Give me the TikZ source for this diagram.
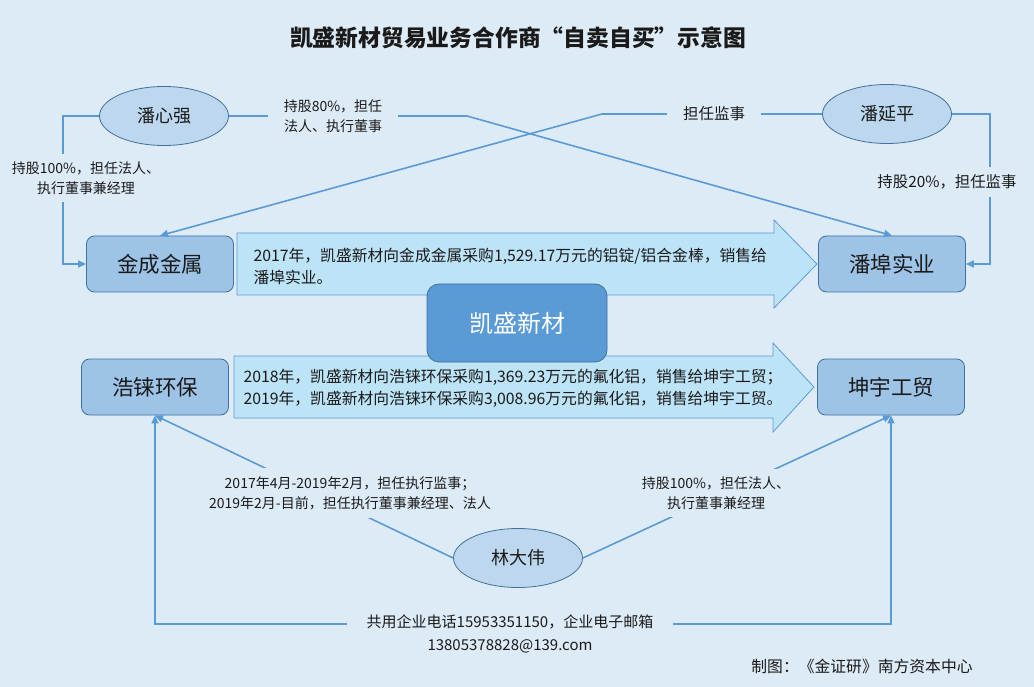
\documentclass[tikz,border=0pt]{standalone}
\usepackage{fontspec}
\setmainfont{Noto Sans CJK SC}
\usetikzlibrary{arrows.meta, positioning, shapes.geometric}

\definecolor{bgblue}{HTML}{DDEBF7}
\definecolor{boxblue}{HTML}{9DC3E6}
\definecolor{darkblue}{HTML}{41719C}
\definecolor{midblue}{HTML}{5B9BD5}
\definecolor{paleblue}{HTML}{BDD7EE}
\definecolor{arrowfill}{HTML}{BDE3F7}
\definecolor{inkgray}{HTML}{1A1A1A}

\tikzset{
  company/.style = {draw=darkblue, fill=boxblue, rounded corners=8pt, line width=0.8pt,
    minimum width=147pt, minimum height=56pt, text=inkgray, font=\fontsize{21.5}{25}\selectfont},
  person/.style = {ellipse, draw=darkblue, fill=paleblue, line width=0.8pt, inner sep=0pt,
    minimum width=129pt, minimum height=59pt, text=inkgray, font=\fontsize{18}{22}\selectfont},
  tag/.style = {fill=bgblue, align=center, text=inkgray, inner xsep=16pt, inner ysep=8pt,
    font=\fontsize{14}{20}\selectfont},
  link/.style = {draw=midblue, line width=1.6pt},
  bigarrow/.style = {fill=arrowfill, draw=midblue, line width=0.8pt},
  flowtext/.style = {anchor=west, align=left, text=inkgray, font=\fontsize{15.8}{22}\selectfont}
}

\begin{document}
\begin{tikzpicture}[x=1pt, y=-1pt, >={Triangle[length=8pt, width=7pt]}]
  \fill[bgblue] (0,0) rectangle (1034,687);
  \useasboundingbox (0,0) rectangle (1034,687);

  \node[font=\fontsize{22.8}{26}\selectfont\bfseries, text=inkgray] (title) at (518,38)
    {凯盛新材贸易业务合作商“自卖自买”示意图};

  % trade flows
  \draw[bigarrow] (237,233) -- (774,233) -- (774,220) -- (817,264) -- (774,308) -- (774,295) -- (237,295) -- cycle;
  \node[flowtext] (flow1) at (250,266)
    {2017年，凯盛新材向金成金属采购1,529.17万元的铝锭/铝合金棒，销售给\\潘埠实业。};
  \draw[bigarrow] (234,356) -- (773,356) -- (773,343) -- (814,387) -- (773,432) -- (773,418) -- (234,418) -- cycle;
  \node[flowtext] (flow2) at (240,388)
    {2018年，凯盛新材向浩铼环保采购1,369.23万元的氟化铝，销售给坤宇工贸；\\2019年，凯盛新材向浩铼环保采购3,008.96万元的氟化铝，销售给坤宇工贸。};

  \node[company, fill=midblue, draw=darkblue, text=white, minimum width=180pt,
    minimum height=78pt, rounded corners=12pt, font=\fontsize{24}{28}\selectfont] (ks) at (517,323) {凯盛新材};

  % companies
  \node[company] (jc) at (160,264) {金成金属};
  \node[company] (pb) at (892,264) {潘埠实业};
  \node[company] (hl) at (155,387) {浩铼环保};
  \node[company] (ky) [on grid, right=736pt of hl] {坤宇工贸};

  % people
  \node[person] (pxq) at (164,116) {潘心强};
  \node[person] (pyp) at (887,114) {潘延平};
  \node[person] (ldw) at (518,558) {林大伟};

  \coordinate (pxqturn) at (63,116);
  \coordinate (pxqbend) at (467,116);
  \coordinate (pypbend) at (602,114);
  \coordinate (pypturn) at (990,114);
  \coordinate (mailL) at (155,624);
  \coordinate (mailR) at (891,624);

  \draw[link, ->] (pxq.west) -- (pxqturn) |- (jc.west);
  \draw[link, ->] (pxq.east) -- (pxqbend) -- (pb.north);
  \draw[link, ->] (pyp.west) -- (pypbend) -- (jc.north);
  \draw[link, ->] (pyp.east) -- (pypturn) |- (pb.east);
  \draw[link, ->] (ldw.west) -- (hl.south);
  \draw[link, ->] (ldw.east) -- (ky.south);
  \draw[link, <->] (hl.south) -- (mailL) -- (mailR) -- (ky.south);

  % labels
  \node[tag] (l1) at (86,178) {持股100\%，担任法人、\\执行董事兼经理};
  \node[tag] (l2) at (333,116) {持股80\%，担任\\法人、执行董事};
  \node[tag, font=\fontsize{15.5}{20}\selectfont] (l3) at (714,114) {担任监事};
  \node[tag, font=\fontsize{15.4}{20}\selectfont] (l4) at (947,182) {持股20\%，担任监事};
  \node[tag] (l5) at (350,493) {2017年4月-2019年2月，担任执行监事；\\2019年2月-目前，担任执行董事兼经理、法人};
  \node[tag] (l6) at (716,493) {持股100\%，担任法人、\\执行董事兼经理};
  \node[tag, inner xsep=20pt, font=\fontsize{15}{23}\selectfont] (l7) at (510,634)
    {共用企业电话15953351150，企业电子邮箱\\13805378828@139.com};

  \node[text=inkgray, font=\fontsize{15.8}{18}\selectfont] (credit) at (862,666) {制图：《金证研》南方资本中心};
\end{tikzpicture}
\end{document}
